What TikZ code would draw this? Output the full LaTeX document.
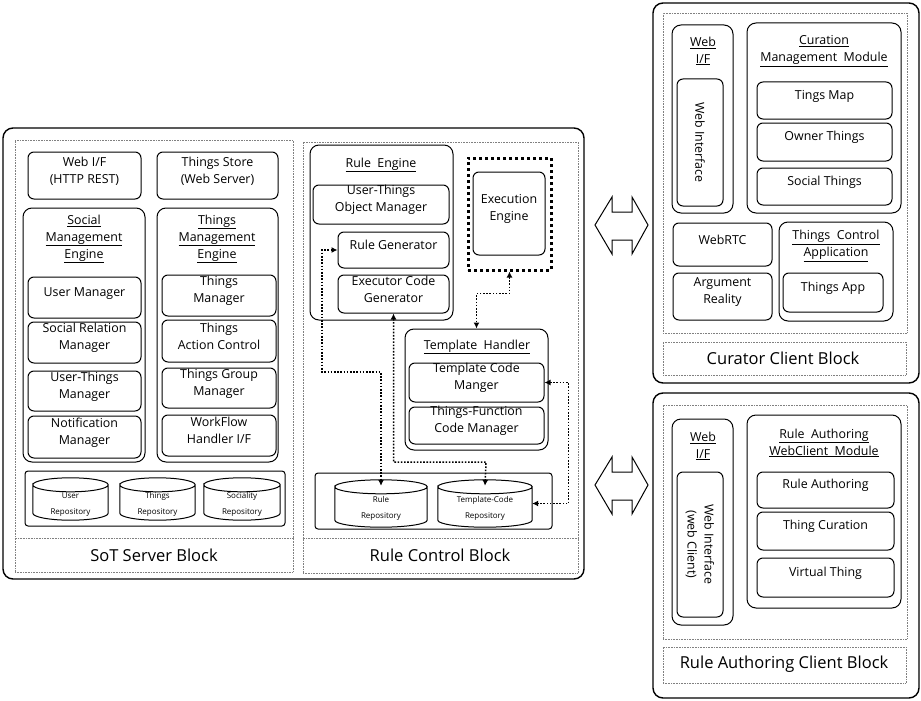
\documentclass[tikz,border=0pt]{standalone}
\usepackage{fontspec}
\setmainfont{Open Sans}
\usetikzlibrary{fit, calc, arrows.meta}
\newcommand{\bodyfont}{\fontsize{12.4}{17}\selectfont}
\newcommand{\blockfont}{\fontsize{16.5}{20}\selectfont}
\newcommand{\repofont}{\fontsize{8}{16}\selectfont}
\newcommand{\drumtext}[1]{\raisebox{-13pt}[\height][\depth]{\begin{tabular}{@{}c@{}}#1\end{tabular}}}
\tikzset{
    x=1pt, y=-1pt, % pixel units, y grows downwards
    >={Latex[length=6pt, width=6pt]},
    every node/.style={font=\bodyfont, inner sep=0pt},
    box/.style={draw, rounded corners=6pt, line width=1pt, align=center}, % leaf modules
    group/.style={draw, rounded corners=9pt, line width=1pt}, % module containers
    block/.style={draw, rounded corners=10pt, line width=1.4pt}, % outer blocks
    area/.style={draw=gray, densely dotted, line width=0.6pt},
    title/.style={align=center},
    blocklabel/.style={font=\blockfont},
    repo/.style={font=\repofont}, % outline drawn below
    link/.style={<->, line width=1.5pt, dash pattern=on 1.6pt off 1.6pt},
    hollow/.style={draw, line width=1pt, line join=miter},
}
\begin{document}
\begin{tikzpicture}
\useasboundingbox (0,0) rectangle (921,701);

% SoT server + rule control
\node[block, fit={(3,128) (584,579)}] (serverblk) {};
\node[area, fit={(15,140) (293,572)}] (sotarea) {};
\draw[area] (sotarea.west |- 0,538) -- (sotarea.east |- 0,538);
\node[blocklabel] (sotlbl) at (154,555) {SoT Server Block};

\node[box, fit={(28,152) (141,199)}] (webif) {Web I/F\\(HTTP REST)};
\node[box, fit={(157,152) (278,199)}] (store) {Things Store\\(Web Server)};

\node[group, fit={(23,208) (145,462)}] (socialeng) {};
\node[title] (socialttl) at (84,239) {\underline{Social}\\\underline{Management}\\\underline{Engine}};
\node[box, fit={(28,277) (141,318)}] (usermgr) {User Manager};
\node[box, fit={(28,322) (141,363)}] (socrel) {Social Relation\\Manager};
\node[box, fit={(28,371) (141,411)}] (utmgr) {User-Things\\Manager};
\node[box, fit={(28,416) (141,458)}] (notimgr) {Notification\\Manager};

\node[group, fit={(157,208) (278,462)}] (thingseng) {};
\node[title] (thingsttl) at (217,239) {\underline{Things}\\\underline{Management}\\\underline{Engine}};
\node[box, fit={(162,275) (276,316)}] (thmgr) {Things\\Manager};
\node[box, fit={(162,320) (276,362)}] (thact) {Things\\Action Control};
\node[box, fit={(162,368) (276,408)}] (thgrp) {Things Group\\Manager};
\node[box, fit={(162,415) (276,456)}] (wfh) {WorkFlow\\Handler I/F};

\node[draw, rounded corners=3pt, line width=1pt, fit={(25,471) (285,526)}] (sotrepos) {};
\node[repo, fit={(33,478) (108,520)}] (userrepo) {\drumtext{User\\Repository}};
\node[repo, fit={(120,478) (195,520)}] (threpo) {\drumtext{Things\\Repository}};
\node[repo, fit={(204,478) (280,520)}] (socrepo) {\drumtext{Sociality\\Repository}};

% rule control block
\node[area, fit={(303,142) (578,573)}] (rulearea) {};
\draw[area] (rulearea.west |- 0,538) -- (rulearea.east |- 0,538);
\node[blocklabel] (rulelbl) at (440,555) {Rule Control Block};

\node[group, fit={(310,145) (453,320)}] (ruleeng) {};
\node[title] (rulettl) at (381,165) {\underline{Rule\ \ Engine}};
\node[box, fit={(313,185) (449,224)}] (utobj) {User-Things\\Object Manager};
\node[box, fit={(338,232) (449,268)}] (rulegen) {Rule Generator};
\node[box, fit={(338,275) (449,313)}] (execgen) {Executor Code\\Generator};

\node[draw, line width=3pt, dash pattern=on 3pt off 3pt, fit={(468,158) (551,270)}] (execbox) {};
\node[box, fit={(473,172) (545,255)}] (execeng) {Execution\\Engine};

\node[group, fit={(405,329) (548,450)}] (tmplh) {};
\node[title] (tmplttl) at (477,347) {\underline{Template\ \ Handler}};
\node[box, fit={(409,363) (544,402)}] (tcmgr) {Template Code\\Manger};
\node[box, fit={(409,407) (544,444)}] (tfmgr) {Things-Function\\Code Manager};

\node[draw, rounded corners=3pt, line width=1pt, fit={(315,473) (552,529)}] (rulerepos) {};
\node[repo, fit={(335,480) (427,527)}] (rulerepo) {\drumtext{Rule\\Repository}};
\node[repo, fit={(438,480) (532,527)}] (tcrepo) {\drumtext{Template-Code\\Repository}};

% repository drums
\foreach \r in {userrepo, threpo, socrepo, rulerepo, tcrepo}
    \draw[line width=1pt] let \p1=(\r.north west), \p2=(\r.south east), \n1={(\x2-\x1)/2} in
        (\x1,\y1-7pt) arc[x radius=\n1, y radius=7pt, start angle=180, end angle=-180]
        -- (\x1,\y2+7pt) arc[x radius=\n1, y radius=7pt, start angle=180, end angle=360]
        -- (\x2,\y1-7pt);

\coordinate (bend1) at (322,372);
\coordinate (bend2) at (486,462);
\draw[link] (rulegen.west) -| (bend1) -| ([yshift=-6pt]rulerepo.north);
\draw[link] (execgen.south) |- (bend2) -- ([yshift=-6pt]tcrepo.north);
\draw[link] (execbox.south) -- ++(0,22) -| (tmplh.north);
\draw[link] (tcmgr.east) -- ++(24,0) |- (tcrepo.east);

% curator client block
\node[block, fit={(653,3) (919,383)}] (curblk) {};
\node[area, fit={(663,13) (907,333)}] (curarea) {};
\node[area, fit={(663,342) (906,375)}] (curlblarea) {};
\node[blocklabel] (curlbl) at (783,358) {Curator Client Block};

\node[group, fit={(672,25) (733,213)}] (cwebif) {};
\node[title] (cwebttl) at (703,51) {\underline{Web}\\\underline{I/F}};
\node[box, fit={(677,79) (723,206)}] (cwebin) {};
\node[rotate=-90] (cwebtxt) at (cwebin.center) {Web Interface};

\node[group, fit={(747,23) (901,213)}] (curmod) {};
\node[title] (curttl) at (824,51) {\underline{Curation}\\\underline{Management\ \ Module}};
\node[box, fit={(757,82) (892,119)}] (tmap) {Tings Map};
\node[box, fit={(757,123) (892,161)}] (owner) {Owner Things};
\node[box, fit={(757,168) (892,205)}] (social) {Social Things};

\node[box, fit={(673,223) (772,266)}] (webrtc) {WebRTC};
\node[box, fit={(673,273) (772,320)}] (ar) {Argument\\Reality};
\node[group, fit={(779,222) (893,321)}] (tcapp) {};
\node[title] (tcappttl) at (836,246) {\underline{Things\ \ Control}\\\underline{Application}};
\node[box, fit={(783,273) (883,312)}] (thapp) {Things App};

% rule authoring client block
\node[block, fit={(653,393) (919,698)}] (rablk) {};
\node[area, fit={(663,405) (907,639)}] (raarea) {};
\node[area, fit={(663,647) (906,683)}] (ralblarea) {};
\node[blocklabel] (ralbl) at (784,664) {Rule Authoring Client Block};

\node[group, fit={(672,419) (733,625)}] (rwebif) {};
\node[title] (rwebttl) at (703,446) {\underline{Web}\\\underline{I/F}};
\node[box, fit={(677,472) (723,617)}] (rwebin) {};
\node[rotate=-90, align=center] (rwebtxt) at (rwebin.center) {Web Interface\\(web Client)};

\node[group, fit={(747,415) (901,608)}] (ramod) {};
\node[title] (rattl) at (824,443) {\underline{Rule\ \ Authoring}\\\underline{WebClient\ \ Module}};
\node[box, fit={(757,472) (894,508)}] (rauth) {Rule Authoring};
\node[box, fit={(757,512) (894,550)}] (thcur) {Thing Curation};
\node[box, fit={(757,558) (894,597)}] (vthing) {Virtual Thing};

% interface arrows between blocks
\draw[hollow] (595,225) -- (612,197) -- (612,212) -- (632,212) -- (632,197) -- (648,225)
    -- (632,254) -- (632,240) -- (612,240) -- (612,254) -- cycle;
\draw[hollow] (595,485) -- (612,457) -- (612,472) -- (632,472) -- (632,457) -- (648,485)
    -- (632,514) -- (632,500) -- (612,500) -- (612,514) -- cycle;
\end{tikzpicture}
\end{document}
